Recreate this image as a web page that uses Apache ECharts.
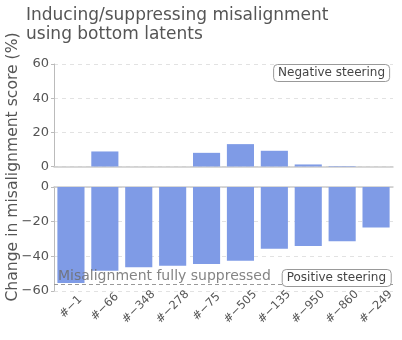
<!DOCTYPE html>
<html><head><meta charset="utf-8">
<script src="https://cdn.jsdelivr.net/npm/echarts@6/dist/echarts.min.js"></script>
<style>html,body{margin:0;padding:0;background:#fff}#c{width:402px;height:340px}</style>
</head><body><div id="c"></div>
<script>
const categories = ['#\u22121','#\u221266','#\u2212348','#\u2212278','#\u221275','#\u2212505','#\u2212135','#\u2212950','#\u2212860','#\u2212249'];
const negativeSteering = [0, 8.8, 0, 0, 8.0, 13.1, 9.2, 1.2, 0.3, 0];
const positiveSteering = [-55.4, -48.3, -46.3, -45.4, -44.4, -42.5, -35.6, -34.0, -31.3, -23.3];
const fullySuppressed = -56.3;
const topTicks = [0, 20, 40, 60];
const bottomTicks = [-60, -40, -20, 0];

const FONT = 'DejaVu Sans';
const barColor = '#7f9be6';
const txt = '#555';
const chart = echarts.init(document.getElementById('c'), null, {renderer: 'canvas'});
const fmt = v => (v < 0 ? '\u2212' + Math.abs(v) : String(v));
chart.setOption({
  animation: false,
  textStyle: {fontFamily: FONT},
  title: [
    {text: 'Inducing/suppressing misalignment\nusing bottom latents', left: 21, top: 1,
     textStyle: {fontFamily: FONT, fontSize: 17, fontWeight: 'normal', color: '#555', lineHeight: 19}},
    {text: 'Negative steering', right: 12, top: 64, padding: [3, 5, 3, 5],
     borderColor: '#999', borderWidth: 1, borderRadius: 4, backgroundColor: '#fff',
     textStyle: {fontFamily: FONT, fontSize: 12, fontWeight: 'normal', color: '#444'}},
    {text: 'Positive steering', right: 11, top: 269, padding: [3, 5, 3, 5],
     borderColor: '#999', borderWidth: 1, borderRadius: 4, backgroundColor: '#fff',
     textStyle: {fontFamily: FONT, fontSize: 12, fontWeight: 'normal', color: '#444'}}
  ],
  graphic: [{
    type: 'text', x: 13, y: 167, rotation: Math.PI / 2,
    style: {text: 'Change in misalignment score (%)', font: '15.6px "DejaVu Sans"', fill: '#555',
            textAlign: 'center', textVerticalAlign: 'middle'}
  }],
  grid: [
    {left: 54, right: 9, top: 64, height: 102.5},
    {left: 54, right: 9, top: 187, height: 104}
  ],
  xAxis: [
    {type: 'category', gridIndex: 0, data: categories,
     axisLine: {lineStyle: {color: '#ccc', width: 1.5}}, axisTick: {show: false}, axisLabel: {show: false}},
    {type: 'category', gridIndex: 1, data: categories,
     axisLine: {lineStyle: {color: '#ccc', width: 1.5}}, axisTick: {show: false},
     axisLabel: {rotate: 45, align: 'center', verticalAlign: 'middle', color: txt, fontSize: 11.5,
                 fontFamily: FONT, margin: 16, interval: 0}}
  ],
  yAxis: [
    {type: 'value', gridIndex: 0, min: 0, max: 60, interval: 20,
     axisLine: {show: true, lineStyle: {color: '#bbb'}}, axisTick: {show: true, length: 3, lineStyle: {color: '#bbb'}},
     axisLabel: {color: txt, fontSize: 13, fontFamily: FONT, margin: 5, formatter: fmt},
     splitLine: {lineStyle: {color: '#e2e2e2', type: [4, 4]}}},
    {type: 'value', gridIndex: 1, min: -60, max: 0, interval: 20,
     axisLine: {show: true, lineStyle: {color: '#bbb'}}, axisTick: {show: true, length: 3, lineStyle: {color: '#bbb'}},
     axisLabel: {color: txt, fontSize: 13, fontFamily: FONT, margin: 5, formatter: fmt},
     splitLine: {lineStyle: {color: '#e2e2e2', type: [4, 4]}}}
  ],
  series: [
    {type: 'bar', xAxisIndex: 0, yAxisIndex: 0, data: negativeSteering, barCategoryGap: '20%',
     itemStyle: {color: barColor}},
    {type: 'bar', xAxisIndex: 1, yAxisIndex: 1, data: positiveSteering, barCategoryGap: '20%',
     itemStyle: {color: barColor},
     markLine: {symbol: 'none', silent: true,
       lineStyle: {color: '#999', type: [4, 3], width: 1},
       label: {show: true, position: 'insideStartTop', formatter: 'Misalignment fully suppressed',
               color: 'rgba(110,110,110,0.85)', fontSize: 14, fontFamily: FONT, distance: [4, 1]},
       data: [{yAxis: fullySuppressed}]}}
  ]
});
</script></body></html>
